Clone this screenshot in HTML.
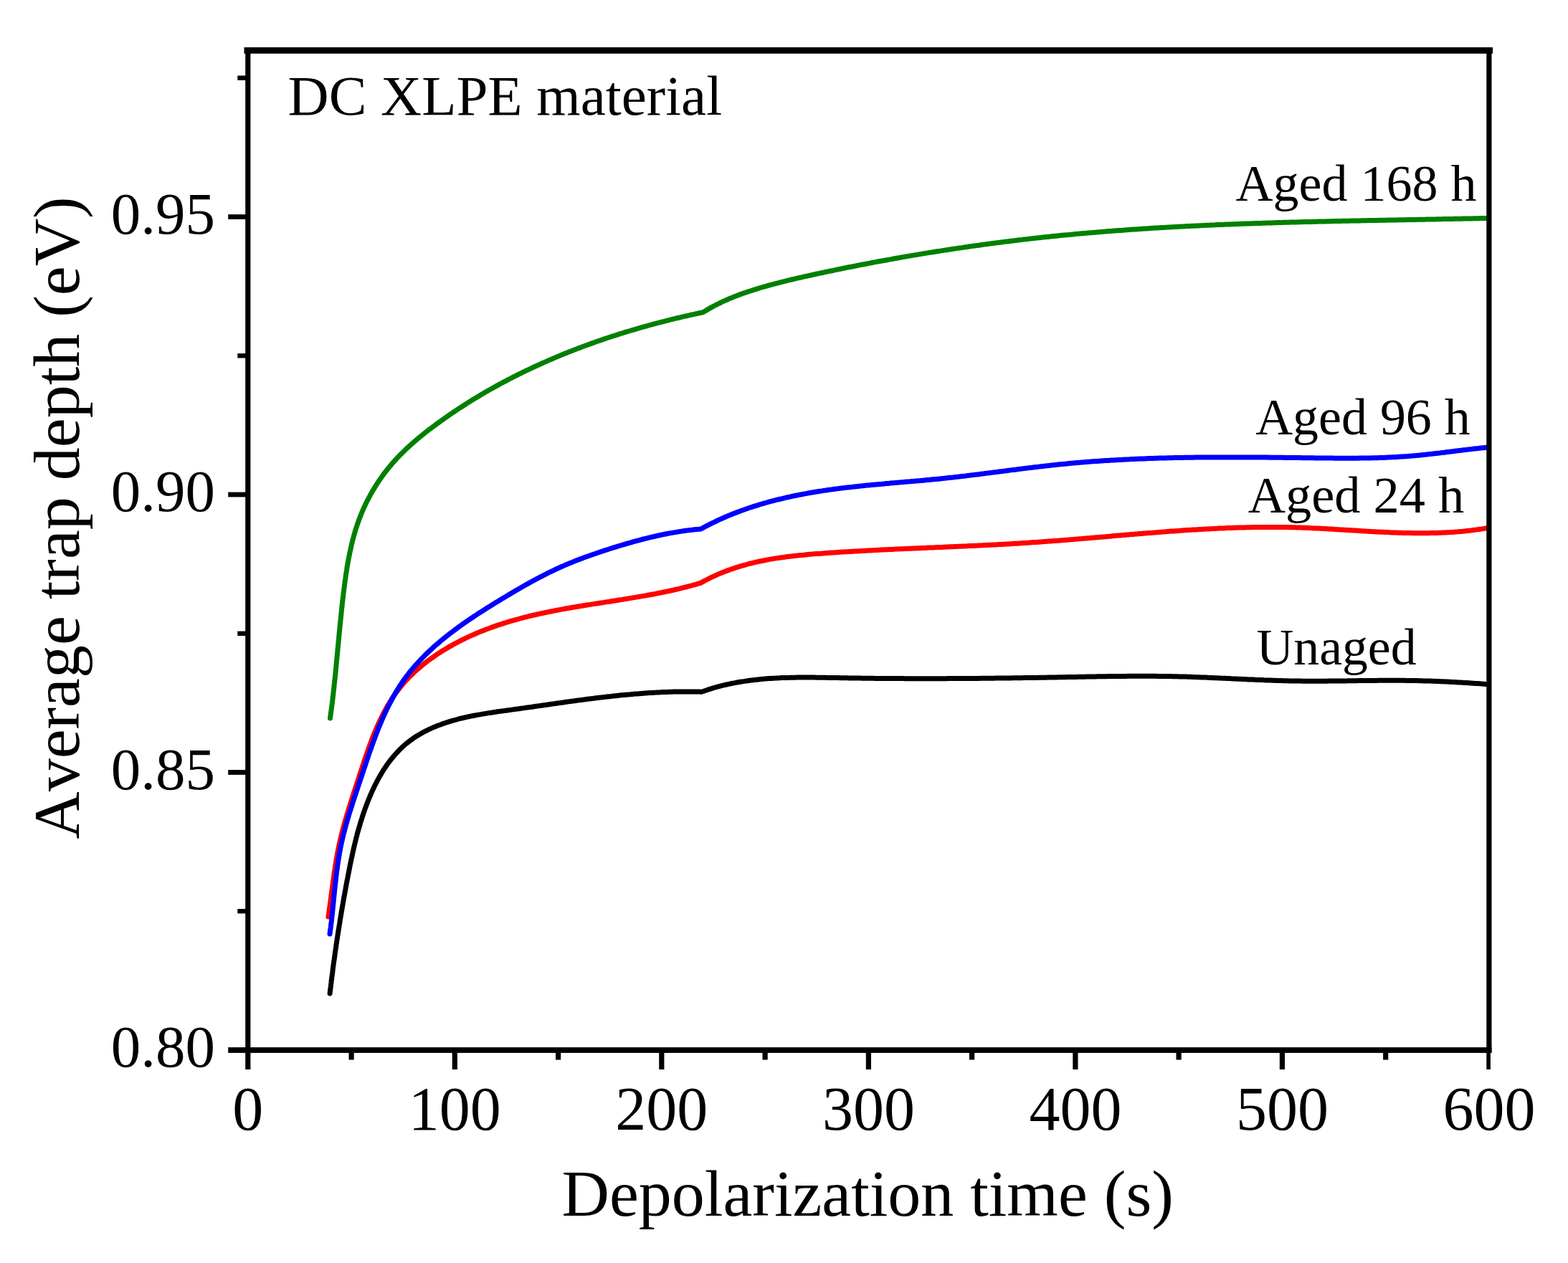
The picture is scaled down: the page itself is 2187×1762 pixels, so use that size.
<!DOCTYPE html>
<html><head><meta charset="utf-8"><title>Average trap depth vs depolarization time</title>
<style>
html,body{margin:0;padding:0;background:#fff;}
body{width:2187px;height:1762px;overflow:hidden;}
svg{display:block;}
text{font-family:"Liberation Serif","Times New Roman",serif;fill:#000;font-kerning:none;}
</style></head>
<body>
<svg width="2187" height="1762" viewBox="0 0 2187 1762">
<rect width="2187" height="1762" fill="#fff"/>
<g fill="none" stroke-width="7.0" stroke-linejoin="round" stroke-linecap="round">
<path d="M460.1 1386.0L460.4 1383.0L460.8 1380.1L461.2 1377.1L461.5 1374.1L461.9 1371.1L462.2 1368.1L462.6 1365.2L463.0 1362.2L463.4 1359.2L463.8 1356.2L464.1 1353.2L464.5 1350.2L464.9 1347.3L465.3 1344.3L465.7 1341.3L466.2 1338.3L466.6 1335.3L467.0 1332.3L467.4 1329.3L467.8 1326.3L468.3 1323.3L468.7 1320.4L469.1 1317.4L469.6 1314.4L470.0 1311.4L470.5 1308.4L470.9 1305.4L471.4 1302.4L471.9 1299.4L472.3 1296.4L472.8 1293.5L473.3 1290.5L473.8 1287.5L474.2 1284.5L474.7 1281.5L475.2 1278.5L475.7 1275.5L476.2 1272.6L476.7 1269.6L477.2 1266.6L477.7 1263.6L478.3 1260.7L478.8 1257.7L479.3 1254.7L479.8 1251.7L480.4 1248.8L480.9 1245.8L481.4 1242.8L482.0 1239.9L482.5 1236.9L483.1 1234.0L483.6 1231.0L484.2 1228.0L484.8 1225.1L485.3 1222.1L485.9 1219.2L486.5 1216.2L487.1 1213.3L487.6 1210.4L488.2 1207.4L488.8 1204.5L489.4 1201.6L490.0 1198.6L490.7 1195.7L491.3 1192.8L491.9 1189.9L492.6 1186.9L493.2 1184.0L493.9 1181.1L494.6 1178.2L495.3 1175.3L496.0 1172.4L496.7 1169.5L497.5 1166.6L498.2 1163.7L499.0 1160.8L499.8 1158.0L500.6 1155.1L501.5 1152.2L502.3 1149.3L503.2 1146.4L504.1 1143.6L505.0 1140.7L505.9 1137.9L506.9 1135.0L507.8 1132.1L508.8 1129.3L509.9 1126.5L510.9 1123.6L512.0 1120.8L513.1 1117.9L514.2 1115.1L515.4 1112.3L516.6 1109.5L517.8 1106.7L519.0 1103.9L520.3 1101.2L521.6 1098.4L522.9 1095.7L524.3 1093.0L525.7 1090.3L527.1 1087.6L528.6 1084.9L530.1 1082.3L531.6 1079.7L533.2 1077.1L534.7 1074.5L536.4 1072.0L538.1 1069.5L539.8 1067.0L541.5 1064.6L543.3 1062.2L545.1 1059.8L547.0 1057.5L548.9 1055.2L550.8 1053.0L552.8 1050.8L554.8 1048.6L556.8 1046.5L559.0 1044.4L561.1 1042.3L563.3 1040.3L565.5 1038.4L567.8 1036.5L570.1 1034.7L572.5 1032.9L574.9 1031.1L577.3 1029.4L579.8 1027.8L582.3 1026.2L584.9 1024.7L587.5 1023.2L590.1 1021.7L592.8 1020.3L595.5 1019.0L598.2 1017.6L600.9 1016.4L603.7 1015.1L606.5 1014.0L609.3 1012.8L612.1 1011.7L615.0 1010.7L617.8 1009.6L620.7 1008.7L623.5 1007.7L626.4 1006.8L629.3 1005.9L632.2 1005.1L635.1 1004.3L638.0 1003.5L640.9 1002.7L643.8 1002.0L646.8 1001.3L649.7 1000.6L652.6 1000.0L655.6 999.4L658.5 998.8L661.5 998.2L664.4 997.6L667.4 997.1L670.3 996.6L673.3 996.1L676.3 995.6L679.3 995.1L682.2 994.6L685.2 994.2L688.2 993.7L691.2 993.3L694.2 992.8L697.1 992.4L700.1 992.0L703.1 991.6L706.1 991.2L709.1 990.8L712.1 990.4L715.1 989.9L718.0 989.5L721.0 989.1L724.0 988.7L727.0 988.3L730.0 987.9L733.0 987.4L736.0 987.0L738.9 986.6L741.9 986.2L744.9 985.7L747.9 985.3L750.9 984.9L753.9 984.5L756.9 984.0L759.8 983.6L762.8 983.2L765.8 982.7L768.8 982.3L771.8 981.9L774.8 981.5L777.7 981.0L780.7 980.6L783.7 980.2L786.7 979.8L789.7 979.3L792.7 978.9L795.6 978.5L798.6 978.1L801.6 977.7L804.6 977.3L807.6 976.9L810.6 976.5L813.6 976.1L816.5 975.7L819.5 975.3L822.5 974.9L825.5 974.6L828.5 974.2L831.5 973.8L834.5 973.4L837.4 973.1L840.4 972.7L843.4 972.4L846.4 972.0L849.4 971.7L852.4 971.4L855.4 971.0L858.4 970.7L861.4 970.4L864.3 970.1L867.3 969.8L870.3 969.5L873.3 969.2L876.3 968.9L879.3 968.7L882.3 968.4L885.3 968.1L888.3 967.9L891.3 967.7L894.3 967.4L897.3 967.2L900.3 967.0L903.3 966.8L906.3 966.6L909.3 966.4L912.3 966.2L915.3 966.1L918.3 965.9L921.3 965.8L924.3 965.6L927.3 965.5L930.3 965.4L933.3 965.3L936.4 965.2L939.4 965.1L942.4 965.0L945.4 965.0L948.4 964.9L951.4 964.9L954.4 964.9L957.4 964.9L960.5 964.9L963.5 964.9L966.5 964.9L969.5 965.0L972.6 965.0L975.6 965.1L978.6 965.2L981.5 964.2L984.4 963.2L987.3 962.2L990.2 961.3L993.1 960.4L996.0 959.5L998.9 958.7L1001.8 957.9L1004.7 957.1L1007.6 956.4L1010.6 955.7L1013.5 955.0L1016.4 954.4L1019.4 953.7L1022.3 953.1L1025.2 952.6L1028.2 952.0L1031.1 951.5L1034.1 951.0L1037.1 950.6L1040.0 950.1L1043.0 949.7L1045.9 949.3L1048.9 948.9L1051.9 948.6L1054.9 948.2L1057.8 947.9L1060.8 947.6L1063.8 947.3L1066.8 947.1L1069.8 946.8L1072.8 946.6L1075.8 946.4L1078.7 946.2L1081.7 946.1L1084.7 945.9L1087.7 945.8L1090.7 945.6L1093.7 945.5L1096.8 945.4L1099.8 945.4L1102.8 945.3L1105.8 945.2L1108.8 945.2L1111.8 945.1L1114.8 945.1L1117.8 945.1L1120.8 945.1L1123.9 945.1L1126.9 945.1L1129.9 945.1L1132.9 945.1L1135.9 945.1L1139.0 945.2L1142.0 945.2L1145.0 945.2L1148.0 945.3L1151.0 945.3L1154.1 945.4L1157.1 945.4L1160.1 945.5L1163.1 945.5L1166.2 945.6L1169.2 945.6L1172.2 945.7L1175.2 945.7L1178.2 945.8L1181.3 945.8L1184.3 945.9L1187.3 945.9L1190.3 946.0L1193.4 946.0L1196.4 946.1L1199.4 946.1L1202.4 946.2L1205.4 946.2L1208.5 946.2L1211.5 946.3L1214.5 946.3L1217.5 946.3L1220.5 946.4L1223.5 946.4L1226.6 946.4L1229.6 946.5L1232.6 946.5L1235.6 946.5L1238.6 946.5L1241.7 946.5L1244.7 946.6L1247.7 946.6L1250.7 946.6L1253.7 946.6L1256.7 946.6L1259.7 946.6L1262.8 946.7L1265.8 946.7L1268.8 946.7L1271.8 946.7L1274.8 946.7L1277.8 946.7L1280.9 946.7L1283.9 946.7L1286.9 946.7L1289.9 946.7L1292.9 946.7L1295.9 946.7L1298.9 946.7L1301.9 946.7L1305.0 946.7L1308.0 946.7L1311.0 946.7L1314.0 946.7L1317.0 946.7L1320.0 946.7L1323.0 946.6L1326.0 946.6L1329.1 946.6L1332.1 946.6L1335.1 946.6L1338.1 946.6L1341.1 946.6L1344.1 946.5L1347.1 946.5L1350.1 946.5L1353.1 946.5L1356.2 946.5L1359.2 946.4L1362.2 946.4L1365.2 946.4L1368.2 946.3L1371.2 946.3L1374.2 946.3L1377.2 946.3L1380.2 946.2L1383.3 946.2L1386.3 946.2L1389.3 946.1L1392.3 946.1L1395.3 946.1L1398.3 946.0L1401.3 946.0L1404.3 946.0L1407.3 945.9L1410.4 945.9L1413.4 945.8L1416.4 945.8L1419.4 945.8L1422.4 945.7L1425.4 945.7L1428.4 945.6L1431.4 945.6L1434.4 945.5L1437.5 945.5L1440.5 945.4L1443.5 945.4L1446.5 945.4L1449.5 945.3L1452.5 945.3L1455.5 945.2L1458.5 945.2L1461.5 945.1L1464.6 945.0L1467.6 945.0L1470.6 944.9L1473.6 944.9L1476.6 944.8L1479.6 944.8L1482.6 944.7L1485.6 944.7L1488.6 944.6L1491.7 944.6L1494.7 944.5L1497.7 944.4L1500.7 944.4L1503.7 944.3L1506.7 944.3L1509.7 944.2L1512.7 944.2L1515.8 944.1L1518.8 944.1L1521.8 944.0L1524.8 943.9L1527.8 943.9L1530.8 943.8L1533.8 943.8L1536.8 943.8L1539.9 943.7L1542.9 943.7L1545.9 943.6L1548.9 943.6L1551.9 943.5L1554.9 943.5L1557.9 943.5L1561.0 943.4L1564.0 943.4L1567.0 943.4L1570.0 943.4L1573.0 943.3L1576.0 943.3L1579.0 943.3L1582.0 943.3L1585.1 943.3L1588.1 943.3L1591.1 943.3L1594.1 943.3L1597.1 943.3L1600.1 943.3L1603.1 943.3L1606.2 943.3L1609.2 943.3L1612.2 943.3L1615.2 943.4L1618.2 943.4L1621.2 943.4L1624.2 943.5L1627.2 943.5L1630.3 943.6L1633.3 943.6L1636.3 943.7L1639.3 943.7L1642.3 943.8L1645.3 943.9L1648.3 944.0L1651.3 944.1L1654.4 944.1L1657.4 944.2L1660.4 944.3L1663.4 944.4L1666.4 944.6L1669.4 944.7L1672.4 944.8L1675.4 944.9L1678.4 945.0L1681.5 945.1L1684.5 945.3L1687.5 945.4L1690.5 945.5L1693.5 945.7L1696.5 945.8L1699.5 945.9L1702.5 946.1L1705.5 946.2L1708.6 946.3L1711.6 946.5L1714.6 946.6L1717.6 946.8L1720.6 946.9L1723.6 947.0L1726.6 947.2L1729.6 947.3L1732.6 947.5L1735.7 947.6L1738.7 947.7L1741.7 947.9L1744.7 948.0L1747.7 948.1L1750.7 948.3L1753.7 948.4L1756.7 948.5L1759.7 948.6L1762.8 948.8L1765.8 948.9L1768.8 949.0L1771.8 949.1L1774.8 949.2L1777.8 949.3L1780.8 949.4L1783.8 949.5L1786.9 949.6L1789.9 949.7L1792.9 949.7L1795.9 949.8L1798.9 949.9L1801.9 949.9L1804.9 950.0L1807.9 950.1L1811.0 950.1L1814.0 950.1L1817.0 950.2L1820.0 950.2L1823.0 950.2L1826.0 950.2L1829.0 950.2L1832.0 950.2L1835.1 950.2L1838.1 950.2L1841.1 950.2L1844.1 950.2L1847.1 950.2L1850.1 950.2L1853.1 950.1L1856.2 950.1L1859.2 950.1L1862.2 950.1L1865.2 950.0L1868.2 950.0L1871.2 950.0L1874.2 949.9L1877.2 949.9L1880.3 949.8L1883.3 949.8L1886.3 949.8L1889.3 949.7L1892.3 949.7L1895.3 949.6L1898.3 949.6L1901.4 949.6L1904.4 949.5L1907.4 949.5L1910.4 949.4L1913.4 949.4L1916.4 949.4L1919.4 949.4L1922.4 949.3L1925.5 949.3L1928.5 949.3L1931.5 949.3L1934.5 949.3L1937.5 949.3L1940.5 949.3L1943.5 949.3L1946.5 949.3L1949.6 949.3L1952.6 949.3L1955.6 949.3L1958.6 949.3L1961.6 949.4L1964.6 949.4L1967.6 949.5L1970.6 949.5L1973.6 949.6L1976.6 949.6L1979.7 949.7L1982.7 949.8L1985.7 949.9L1988.7 949.9L1991.7 950.0L1994.7 950.1L1997.7 950.2L2000.7 950.3L2003.7 950.5L2006.7 950.6L2009.7 950.7L2012.7 950.8L2015.8 951.0L2018.8 951.1L2021.8 951.2L2024.8 951.4L2027.8 951.5L2030.8 951.7L2033.8 951.9L2036.8 952.0L2039.8 952.2L2042.8 952.4L2045.8 952.6L2048.8 952.8L2051.8 953.0L2054.9 953.2L2057.9 953.4L2060.9 953.6L2063.9 953.8L2066.9 954.0L2069.9 954.3L2072.9 954.5" stroke="#000000"/>
<path d="M457.8 1279.0L458.3 1276.0L458.7 1273.1L459.1 1270.1L459.6 1267.1L460.0 1264.1L460.4 1261.2L460.8 1258.2L461.2 1255.2L461.6 1252.2L462.0 1249.2L462.4 1246.2L462.8 1243.2L463.2 1240.2L463.6 1237.2L464.0 1234.2L464.4 1231.2L464.8 1228.2L465.2 1225.2L465.6 1222.2L466.0 1219.2L466.4 1216.3L466.9 1213.3L467.3 1210.3L467.8 1207.3L468.3 1204.3L468.7 1201.3L469.2 1198.4L469.8 1195.4L470.3 1192.5L470.8 1189.5L471.4 1186.6L472.0 1183.6L472.6 1180.7L473.2 1177.8L473.8 1174.9L474.5 1172.0L475.2 1169.0L475.9 1166.2L476.6 1163.3L477.3 1160.4L478.1 1157.5L478.8 1154.6L479.6 1151.7L480.4 1148.9L481.2 1146.0L482.0 1143.2L482.9 1140.3L483.7 1137.4L484.6 1134.6L485.4 1131.7L486.3 1128.9L487.2 1126.0L488.1 1123.2L489.0 1120.3L489.9 1117.5L490.8 1114.6L491.7 1111.8L492.6 1108.9L493.5 1106.1L494.5 1103.2L495.4 1100.4L496.3 1097.5L497.3 1094.6L498.2 1091.8L499.1 1088.9L500.1 1086.0L501.0 1083.1L501.9 1080.2L502.9 1077.3L503.8 1074.5L504.8 1071.6L505.7 1068.7L506.7 1065.8L507.6 1062.9L508.6 1060.0L509.6 1057.1L510.6 1054.2L511.6 1051.4L512.6 1048.5L513.6 1045.6L514.6 1042.8L515.6 1039.9L516.7 1037.0L517.8 1034.2L518.8 1031.4L519.9 1028.5L521.1 1025.7L522.2 1022.9L523.3 1020.1L524.5 1017.3L525.7 1014.6L526.9 1011.8L528.2 1009.1L529.4 1006.3L530.7 1003.6L532.0 1000.9L533.3 998.3L534.7 995.6L536.1 992.9L537.5 990.3L538.9 987.7L540.4 985.1L541.9 982.6L543.4 980.0L545.0 977.5L546.6 975.0L548.2 972.5L549.9 970.0L551.6 967.6L553.3 965.2L555.1 962.8L556.9 960.5L558.7 958.2L560.6 955.9L562.5 953.6L564.5 951.4L566.5 949.1L568.5 947.0L570.6 944.8L572.7 942.7L574.9 940.6L577.1 938.5L579.3 936.5L581.5 934.5L583.8 932.5L586.1 930.5L588.4 928.6L590.7 926.7L593.1 924.8L595.5 923.0L597.9 921.1L600.4 919.4L602.8 917.6L605.3 915.8L607.8 914.1L610.3 912.4L612.8 910.8L615.4 909.2L617.9 907.5L620.5 906.0L623.1 904.4L625.7 902.9L628.3 901.4L631.0 899.9L633.6 898.4L636.3 897.0L639.0 895.6L641.7 894.2L644.3 892.8L647.1 891.5L649.8 890.2L652.5 888.9L655.3 887.6L658.0 886.4L660.8 885.2L663.5 884.0L666.3 882.8L669.1 881.6L671.9 880.5L674.7 879.4L677.5 878.3L680.3 877.2L683.2 876.2L686.0 875.1L688.8 874.1L691.7 873.1L694.5 872.2L697.4 871.2L700.2 870.3L703.1 869.4L706.0 868.5L708.8 867.6L711.7 866.7L714.6 865.9L717.5 865.1L720.4 864.3L723.3 863.5L726.2 862.7L729.1 861.9L732.0 861.2L734.9 860.5L737.8 859.7L740.7 859.0L743.6 858.3L746.5 857.7L749.5 857.0L752.4 856.4L755.3 855.7L758.3 855.1L761.2 854.5L764.1 853.9L767.1 853.3L770.0 852.7L773.0 852.1L775.9 851.5L778.9 851.0L781.8 850.4L784.8 849.9L787.7 849.3L790.7 848.8L793.7 848.3L796.6 847.8L799.6 847.3L802.6 846.8L805.5 846.3L808.5 845.8L811.5 845.3L814.4 844.8L817.4 844.3L820.4 843.8L823.4 843.4L826.3 842.9L829.3 842.4L832.3 842.0L835.3 841.5L838.2 841.0L841.2 840.6L844.2 840.1L847.2 839.6L850.2 839.2L853.1 838.7L856.1 838.2L859.1 837.8L862.1 837.3L865.1 836.8L868.0 836.4L871.0 835.9L874.0 835.4L877.0 834.9L880.0 834.4L882.9 833.9L885.9 833.4L888.9 832.9L891.8 832.4L894.8 831.9L897.8 831.4L900.8 830.9L903.7 830.3L906.7 829.8L909.6 829.2L912.6 828.7L915.6 828.1L918.5 827.5L921.5 826.9L924.4 826.3L927.4 825.7L930.3 825.1L933.3 824.5L936.2 823.8L939.2 823.2L942.1 822.5L945.0 821.8L948.0 821.1L950.9 820.4L953.8 819.7L956.7 819.0L959.7 818.2L962.6 817.5L965.5 816.7L968.4 815.9L971.3 815.1L974.2 814.2L977.1 813.4L979.8 811.9L982.5 810.4L985.2 809.0L988.0 807.6L990.7 806.2L993.4 804.9L996.2 803.6L999.0 802.4L1001.7 801.1L1004.5 800.0L1007.3 798.8L1010.1 797.7L1012.9 796.6L1015.7 795.6L1018.6 794.5L1021.4 793.6L1024.2 792.6L1027.1 791.7L1029.9 790.8L1032.8 789.9L1035.6 789.1L1038.5 788.3L1041.4 787.5L1044.3 786.7L1047.1 786.0L1050.0 785.3L1052.9 784.6L1055.8 783.9L1058.8 783.3L1061.7 782.7L1064.6 782.1L1067.5 781.5L1070.4 780.9L1073.4 780.4L1076.3 779.9L1079.3 779.4L1082.2 778.9L1085.2 778.5L1088.1 778.0L1091.1 777.6L1094.0 777.2L1097.0 776.8L1100.0 776.4L1103.0 776.1L1105.9 775.7L1108.9 775.4L1111.9 775.1L1114.9 774.7L1117.9 774.4L1120.8 774.2L1123.8 773.9L1126.8 773.6L1129.8 773.3L1132.8 773.1L1135.8 772.8L1138.8 772.6L1141.8 772.4L1144.8 772.2L1147.8 771.9L1150.8 771.7L1153.8 771.5L1156.8 771.3L1159.8 771.1L1162.8 770.9L1165.8 770.7L1168.8 770.5L1171.8 770.3L1174.8 770.1L1177.8 769.9L1180.8 769.7L1183.8 769.6L1186.8 769.4L1189.8 769.2L1192.8 769.0L1195.9 768.9L1198.9 768.7L1201.9 768.5L1204.9 768.4L1207.9 768.2L1210.9 768.0L1213.9 767.9L1216.9 767.7L1219.9 767.6L1222.9 767.4L1225.9 767.3L1228.9 767.1L1231.9 767.0L1234.9 766.8L1237.9 766.7L1240.9 766.5L1243.9 766.4L1247.0 766.3L1250.0 766.1L1253.0 766.0L1256.0 765.8L1259.0 765.7L1262.0 765.6L1265.0 765.4L1268.0 765.3L1271.0 765.2L1274.0 765.0L1277.0 764.9L1280.0 764.8L1283.0 764.7L1286.1 764.5L1289.1 764.4L1292.1 764.3L1295.1 764.1L1298.1 764.0L1301.1 763.9L1304.1 763.8L1307.1 763.6L1310.1 763.5L1313.1 763.4L1316.1 763.2L1319.1 763.1L1322.2 763.0L1325.2 762.8L1328.2 762.7L1331.2 762.6L1334.2 762.5L1337.2 762.3L1340.2 762.2L1343.2 762.0L1346.2 761.9L1349.2 761.8L1352.2 761.6L1355.2 761.5L1358.2 761.4L1361.3 761.2L1364.3 761.1L1367.3 760.9L1370.3 760.8L1373.3 760.6L1376.3 760.5L1379.3 760.3L1382.3 760.2L1385.3 760.0L1388.3 759.9L1391.3 759.7L1394.3 759.5L1397.3 759.4L1400.3 759.2L1403.4 759.0L1406.4 758.9L1409.4 758.7L1412.4 758.5L1415.4 758.3L1418.4 758.2L1421.4 758.0L1424.4 757.8L1427.4 757.6L1430.4 757.4L1433.4 757.2L1436.4 757.0L1439.4 756.8L1442.4 756.6L1445.4 756.4L1448.4 756.2L1451.4 756.0L1454.4 755.8L1457.4 755.5L1460.4 755.3L1463.4 755.1L1466.4 754.9L1469.4 754.6L1472.4 754.4L1475.4 754.2L1478.4 753.9L1481.4 753.7L1484.4 753.5L1487.4 753.2L1490.4 753.0L1493.4 752.7L1496.5 752.5L1499.5 752.2L1502.5 752.0L1505.5 751.7L1508.5 751.5L1511.5 751.2L1514.5 751.0L1517.5 750.7L1520.5 750.5L1523.5 750.2L1526.5 750.0L1529.5 749.7L1532.5 749.4L1535.4 749.2L1538.4 748.9L1541.4 748.7L1544.4 748.4L1547.4 748.2L1550.4 747.9L1553.4 747.6L1556.4 747.4L1559.4 747.1L1562.4 746.9L1565.4 746.6L1568.4 746.4L1571.4 746.1L1574.4 745.9L1577.4 745.6L1580.4 745.4L1583.4 745.1L1586.4 744.9L1589.4 744.6L1592.4 744.4L1595.4 744.1L1598.4 743.9L1601.4 743.6L1604.4 743.4L1607.4 743.2L1610.4 742.9L1613.4 742.7L1616.4 742.4L1619.4 742.2L1622.4 742.0L1625.4 741.8L1628.4 741.5L1631.4 741.3L1634.4 741.1L1637.4 740.9L1640.4 740.7L1643.4 740.5L1646.4 740.3L1649.4 740.0L1652.4 739.8L1655.4 739.6L1658.4 739.5L1661.4 739.3L1664.4 739.1L1667.4 738.9L1670.4 738.7L1673.4 738.5L1676.4 738.4L1679.4 738.2L1682.4 738.0L1685.4 737.9L1688.4 737.7L1691.4 737.6L1694.4 737.4L1697.4 737.3L1700.4 737.1L1703.4 737.0L1706.4 736.9L1709.4 736.7L1712.4 736.6L1715.4 736.5L1718.4 736.4L1721.4 736.3L1724.4 736.2L1727.4 736.1L1730.4 736.0L1733.4 735.9L1736.4 735.9L1739.4 735.8L1742.4 735.7L1745.4 735.7L1748.4 735.6L1751.4 735.6L1754.4 735.5L1757.4 735.5L1760.5 735.4L1763.5 735.4L1766.5 735.4L1769.5 735.4L1772.5 735.4L1775.5 735.4L1778.5 735.4L1781.5 735.4L1784.5 735.5L1787.5 735.5L1790.5 735.5L1793.5 735.6L1796.5 735.6L1799.5 735.7L1802.5 735.8L1805.5 735.8L1808.6 735.9L1811.6 736.0L1814.6 736.1L1817.6 736.2L1820.6 736.3L1823.6 736.4L1826.6 736.6L1829.6 736.7L1832.6 736.9L1835.6 737.0L1838.7 737.1L1841.7 737.3L1844.7 737.5L1847.7 737.6L1850.7 737.8L1853.7 738.0L1856.7 738.1L1859.7 738.3L1862.7 738.5L1865.8 738.7L1868.8 738.9L1871.8 739.0L1874.8 739.2L1877.8 739.4L1880.8 739.6L1883.8 739.8L1886.8 740.0L1889.8 740.1L1892.9 740.3L1895.9 740.5L1898.9 740.7L1901.9 740.9L1904.9 741.1L1907.9 741.2L1910.9 741.4L1913.9 741.6L1916.9 741.7L1919.9 741.9L1923.0 742.0L1926.0 742.2L1929.0 742.3L1932.0 742.5L1935.0 742.6L1938.0 742.8L1941.0 742.9L1944.0 743.0L1947.0 743.1L1950.0 743.2L1953.0 743.3L1956.0 743.4L1959.1 743.5L1962.1 743.5L1965.1 743.6L1968.1 743.6L1971.1 743.7L1974.1 743.7L1977.1 743.7L1980.1 743.7L1983.1 743.7L1986.1 743.7L1989.1 743.7L1992.1 743.7L1995.1 743.6L1998.1 743.6L2001.1 743.5L2004.1 743.4L2007.1 743.3L2010.1 743.2L2013.1 743.0L2016.1 742.9L2019.1 742.7L2022.1 742.6L2025.1 742.4L2028.1 742.2L2031.1 741.9L2034.1 741.7L2037.1 741.4L2040.0 741.2L2043.0 740.9L2046.0 740.6L2049.0 740.2L2052.0 739.9L2055.0 739.5L2058.0 739.1L2061.0 738.7L2063.9 738.3L2066.9 737.9L2069.9 737.4L2072.9 736.9" stroke="#ff0000"/>
<path d="M460.0 1303.0L460.4 1300.1L460.8 1297.1L461.2 1294.1L461.5 1291.2L461.9 1288.2L462.3 1285.2L462.6 1282.2L462.9 1279.2L463.3 1276.2L463.6 1273.2L463.9 1270.2L464.2 1267.2L464.5 1264.2L464.8 1261.1L465.1 1258.1L465.4 1255.1L465.7 1252.0L466.0 1249.0L466.3 1246.0L466.6 1242.9L466.9 1239.9L467.3 1236.9L467.6 1233.8L467.9 1230.8L468.3 1227.8L468.6 1224.8L469.0 1221.7L469.3 1218.7L469.7 1215.7L470.1 1212.7L470.5 1209.7L470.9 1206.6L471.4 1203.6L471.8 1200.7L472.3 1197.7L472.8 1194.7L473.3 1191.7L473.8 1188.7L474.4 1185.8L474.9 1182.8L475.5 1179.9L476.1 1176.9L476.8 1174.0L477.4 1171.1L478.1 1168.2L478.8 1165.3L479.5 1162.4L480.3 1159.5L481.0 1156.6L481.8 1153.8L482.6 1150.9L483.4 1148.0L484.2 1145.2L485.0 1142.3L485.9 1139.5L486.7 1136.6L487.6 1133.8L488.5 1130.9L489.4 1128.1L490.3 1125.2L491.2 1122.4L492.1 1119.5L493.0 1116.7L494.0 1113.8L494.9 1111.0L495.9 1108.1L496.8 1105.3L497.8 1102.4L498.7 1099.6L499.7 1096.7L500.6 1093.9L501.6 1091.0L502.5 1088.1L503.5 1085.3L504.5 1082.4L505.4 1079.5L506.4 1076.6L507.3 1073.7L508.3 1070.8L509.3 1067.9L510.2 1065.0L511.2 1062.1L512.2 1059.2L513.2 1056.4L514.1 1053.5L515.1 1050.6L516.1 1047.7L517.2 1044.8L518.2 1041.9L519.2 1039.0L520.2 1036.2L521.3 1033.3L522.4 1030.4L523.4 1027.6L524.5 1024.7L525.6 1021.9L526.7 1019.0L527.8 1016.2L529.0 1013.4L530.1 1010.6L531.3 1007.8L532.5 1005.0L533.7 1002.2L534.9 999.4L536.2 996.7L537.4 993.9L538.7 991.2L540.0 988.5L541.4 985.8L542.7 983.1L544.1 980.4L545.5 977.8L546.9 975.1L548.3 972.5L549.8 969.9L551.3 967.3L552.8 964.7L554.4 962.2L555.9 959.7L557.5 957.1L559.2 954.7L560.8 952.2L562.5 949.7L564.2 947.3L566.0 944.9L567.8 942.5L569.6 940.2L571.4 937.8L573.3 935.5L575.2 933.2L577.1 931.0L579.0 928.7L581.0 926.5L583.0 924.3L585.1 922.1L587.1 919.9L589.2 917.8L591.3 915.6L593.4 913.5L595.6 911.4L597.7 909.4L599.9 907.3L602.1 905.3L604.4 903.2L606.6 901.2L608.9 899.2L611.2 897.3L613.5 895.3L615.8 893.4L618.1 891.4L620.5 889.5L622.9 887.6L625.2 885.7L627.6 883.9L630.1 882.0L632.5 880.2L634.9 878.4L637.4 876.5L639.9 874.7L642.3 873.0L644.8 871.2L647.3 869.4L649.8 867.7L652.4 865.9L654.9 864.2L657.4 862.5L660.0 860.8L662.5 859.1L665.1 857.4L667.6 855.7L670.2 854.1L672.8 852.4L675.4 850.8L677.9 849.1L680.5 847.5L683.1 845.9L685.7 844.3L688.3 842.7L690.9 841.1L693.5 839.5L696.1 837.9L698.6 836.3L701.2 834.8L703.8 833.2L706.4 831.7L709.0 830.1L711.6 828.6L714.2 827.0L716.7 825.5L719.3 824.0L721.9 822.5L724.5 821.0L727.1 819.5L729.7 818.0L732.3 816.5L734.9 815.1L737.5 813.6L740.1 812.2L742.7 810.7L745.3 809.3L748.0 807.9L750.6 806.5L753.2 805.1L755.9 803.8L758.5 802.4L761.2 801.1L763.8 799.7L766.5 798.4L769.2 797.1L771.9 795.8L774.6 794.5L777.3 793.3L780.0 792.0L782.8 790.8L785.5 789.6L788.2 788.4L791.0 787.2L793.8 786.0L796.6 784.9L799.4 783.8L802.2 782.6L805.0 781.5L807.8 780.4L810.7 779.4L813.5 778.3L816.3 777.3L819.2 776.2L822.1 775.2L824.9 774.2L827.8 773.2L830.7 772.2L833.6 771.2L836.5 770.2L839.4 769.3L842.2 768.3L845.1 767.4L848.0 766.5L850.9 765.5L853.8 764.6L856.7 763.7L859.6 762.8L862.5 761.9L865.4 761.0L868.3 760.2L871.2 759.3L874.2 758.4L877.1 757.6L880.0 756.8L882.9 755.9L885.8 755.1L888.7 754.3L891.6 753.6L894.5 752.8L897.5 752.0L900.4 751.3L903.3 750.6L906.2 749.9L909.2 749.2L912.1 748.5L915.0 747.8L918.0 747.2L920.9 746.5L923.9 745.9L926.8 745.3L929.8 744.7L932.7 744.1L935.7 743.6L938.7 743.1L941.6 742.6L944.6 742.1L947.6 741.6L950.6 741.1L953.6 740.7L956.5 740.3L959.5 739.9L962.5 739.5L965.5 739.2L968.5 738.8L971.6 738.5L974.6 738.3L977.6 738.0L980.3 736.5L982.9 735.1L985.6 733.7L988.3 732.3L991.0 730.9L993.7 729.6L996.4 728.3L999.1 727.0L1001.9 725.7L1004.6 724.4L1007.3 723.2L1010.1 722.0L1012.9 720.8L1015.6 719.6L1018.4 718.5L1021.2 717.3L1024.0 716.2L1026.8 715.1L1029.6 714.1L1032.4 713.0L1035.2 712.0L1038.1 711.0L1040.9 710.0L1043.7 709.0L1046.6 708.0L1049.4 707.1L1052.3 706.2L1055.2 705.3L1058.0 704.4L1060.9 703.5L1063.8 702.7L1066.7 701.8L1069.6 701.0L1072.5 700.2L1075.4 699.4L1078.3 698.7L1081.2 697.9L1084.1 697.2L1087.1 696.5L1090.0 695.8L1092.9 695.1L1095.9 694.4L1098.8 693.7L1101.7 693.1L1104.7 692.4L1107.6 691.8L1110.6 691.2L1113.5 690.6L1116.5 690.0L1119.5 689.5L1122.4 688.9L1125.4 688.4L1128.4 687.8L1131.4 687.3L1134.3 686.8L1137.3 686.3L1140.3 685.8L1143.3 685.3L1146.3 684.9L1149.2 684.4L1152.2 684.0L1155.2 683.5L1158.2 683.1L1161.2 682.7L1164.2 682.3L1167.2 681.9L1170.2 681.5L1173.2 681.1L1176.2 680.8L1179.2 680.4L1182.2 680.0L1185.2 679.7L1188.1 679.4L1191.1 679.0L1194.1 678.7L1197.1 678.4L1200.1 678.1L1203.1 677.8L1206.1 677.4L1209.1 677.1L1212.1 676.9L1215.1 676.6L1218.1 676.3L1221.1 676.0L1224.1 675.7L1227.1 675.4L1230.1 675.2L1233.1 674.9L1236.1 674.6L1239.1 674.4L1242.1 674.1L1245.1 673.8L1248.1 673.6L1251.1 673.3L1254.1 673.1L1257.1 672.8L1260.1 672.6L1263.1 672.3L1266.1 672.0L1269.1 671.8L1272.1 671.5L1275.1 671.3L1278.1 671.0L1281.1 670.7L1284.1 670.5L1287.1 670.2L1290.1 669.9L1293.1 669.6L1296.1 669.4L1299.1 669.1L1302.1 668.8L1305.1 668.5L1308.1 668.2L1311.1 667.9L1314.1 667.6L1317.1 667.3L1320.1 666.9L1323.1 666.6L1326.1 666.3L1329.1 666.0L1332.1 665.6L1335.0 665.3L1338.0 664.9L1341.0 664.6L1344.0 664.2L1347.0 663.9L1350.0 663.5L1353.0 663.1L1356.0 662.8L1359.0 662.4L1362.0 662.0L1365.0 661.7L1368.0 661.3L1371.0 660.9L1374.0 660.5L1377.0 660.1L1380.0 659.8L1383.0 659.4L1385.9 659.0L1388.9 658.6L1391.9 658.2L1394.9 657.8L1397.9 657.5L1400.9 657.1L1403.9 656.7L1406.9 656.3L1409.9 655.9L1412.9 655.5L1415.9 655.2L1418.9 654.8L1421.9 654.4L1424.9 654.0L1427.9 653.6L1430.9 653.3L1433.9 652.9L1436.8 652.5L1439.8 652.2L1442.8 651.8L1445.8 651.5L1448.8 651.1L1451.8 650.7L1454.8 650.4L1457.8 650.1L1460.8 649.7L1463.8 649.4L1466.8 649.1L1469.8 648.7L1472.8 648.4L1475.8 648.1L1478.8 647.8L1481.8 647.5L1484.8 647.2L1487.8 646.9L1490.8 646.6L1493.8 646.3L1496.8 646.1L1499.8 645.8L1502.8 645.5L1505.8 645.3L1508.8 645.0L1511.8 644.8L1514.8 644.5L1517.8 644.3L1520.8 644.1L1523.8 643.8L1526.8 643.6L1529.8 643.4L1532.8 643.2L1535.9 643.0L1538.9 642.8L1541.9 642.6L1544.9 642.4L1547.9 642.2L1550.9 642.0L1553.9 641.9L1556.9 641.7L1559.9 641.5L1562.9 641.4L1565.9 641.2L1568.9 641.0L1571.9 640.9L1575.0 640.8L1578.0 640.6L1581.0 640.5L1584.0 640.3L1587.0 640.2L1590.0 640.1L1593.0 640.0L1596.0 639.9L1599.0 639.7L1602.0 639.6L1605.1 639.5L1608.1 639.4L1611.1 639.3L1614.1 639.2L1617.1 639.1L1620.1 639.1L1623.1 639.0L1626.1 638.9L1629.1 638.8L1632.2 638.7L1635.2 638.7L1638.2 638.6L1641.2 638.5L1644.2 638.5L1647.2 638.4L1650.2 638.4L1653.3 638.3L1656.3 638.3L1659.3 638.2L1662.3 638.2L1665.3 638.2L1668.3 638.1L1671.3 638.1L1674.3 638.1L1677.4 638.0L1680.4 638.0L1683.4 638.0L1686.4 638.0L1689.4 637.9L1692.4 637.9L1695.5 637.9L1698.5 637.9L1701.5 637.9L1704.5 637.9L1707.5 637.9L1710.5 637.9L1713.5 637.9L1716.6 637.9L1719.6 637.9L1722.6 637.9L1725.6 637.9L1728.6 637.9L1731.6 637.9L1734.6 637.9L1737.7 637.9L1740.7 637.9L1743.7 638.0L1746.7 638.0L1749.7 638.0L1752.7 638.0L1755.8 638.0L1758.8 638.1L1761.8 638.1L1764.8 638.1L1767.8 638.1L1770.8 638.2L1773.8 638.2L1776.9 638.2L1779.9 638.2L1782.9 638.3L1785.9 638.3L1788.9 638.3L1791.9 638.4L1794.9 638.4L1798.0 638.4L1801.0 638.5L1804.0 638.5L1807.0 638.6L1810.0 638.6L1813.0 638.6L1816.0 638.7L1819.1 638.7L1822.1 638.7L1825.1 638.8L1828.1 638.8L1831.1 638.8L1834.1 638.9L1837.1 638.9L1840.1 639.0L1843.2 639.0L1846.2 639.0L1849.2 639.1L1852.2 639.1L1855.2 639.1L1858.2 639.1L1861.2 639.2L1864.2 639.2L1867.2 639.2L1870.3 639.2L1873.3 639.2L1876.3 639.2L1879.3 639.2L1882.3 639.2L1885.3 639.2L1888.3 639.2L1891.3 639.2L1894.3 639.2L1897.3 639.1L1900.3 639.1L1903.4 639.1L1906.4 639.0L1909.4 639.0L1912.4 638.9L1915.4 638.8L1918.4 638.8L1921.4 638.7L1924.4 638.6L1927.4 638.5L1930.4 638.4L1933.4 638.2L1936.4 638.1L1939.4 638.0L1942.4 637.8L1945.4 637.7L1948.4 637.5L1951.4 637.3L1954.4 637.1L1957.4 636.9L1960.4 636.7L1963.4 636.5L1966.4 636.2L1969.4 636.0L1972.4 635.7L1975.4 635.5L1978.4 635.2L1981.4 634.9L1984.4 634.6L1987.4 634.3L1990.4 633.9L1993.4 633.6L1996.4 633.3L1999.4 632.9L2002.4 632.6L2005.4 632.2L2008.4 631.9L2011.4 631.5L2014.3 631.2L2017.3 630.8L2020.3 630.4L2023.3 630.1L2026.3 629.7L2029.3 629.3L2032.3 628.9L2035.3 628.6L2038.3 628.2L2041.3 627.8L2044.3 627.5L2047.3 627.1L2050.3 626.7L2053.3 626.4L2056.3 626.0L2059.3 625.7L2062.3 625.4L2065.3 625.0L2068.3 624.7L2071.3 624.4L2074.3 624.1" stroke="#0000ff"/>
<path d="M460.5 1002.0L460.9 999.0L461.3 996.0L461.7 993.1L462.1 990.1L462.5 987.1L462.9 984.1L463.3 981.1L463.6 978.2L464.0 975.2L464.3 972.2L464.7 969.2L465.0 966.2L465.3 963.2L465.7 960.3L466.0 957.3L466.3 954.3L466.6 951.3L467.0 948.3L467.3 945.3L467.6 942.3L467.9 939.3L468.2 936.3L468.5 933.3L468.8 930.4L469.0 927.4L469.3 924.4L469.6 921.4L469.9 918.4L470.2 915.4L470.5 912.4L470.8 909.4L471.0 906.4L471.3 903.4L471.6 900.4L471.9 897.4L472.2 894.4L472.5 891.4L472.7 888.4L473.0 885.4L473.3 882.4L473.6 879.4L473.9 876.4L474.2 873.3L474.5 870.3L474.8 867.3L475.1 864.3L475.4 861.3L475.7 858.3L476.0 855.3L476.3 852.3L476.6 849.3L477.0 846.3L477.3 843.2L477.6 840.2L478.0 837.2L478.3 834.2L478.7 831.2L479.0 828.2L479.4 825.1L479.8 822.1L480.2 819.1L480.5 816.1L480.9 813.1L481.3 810.1L481.8 807.0L482.2 804.0L482.6 801.0L483.1 798.0L483.6 795.0L484.0 792.0L484.5 789.0L485.1 786.0L485.6 783.0L486.1 780.0L486.7 777.1L487.3 774.1L487.9 771.1L488.5 768.2L489.2 765.2L489.8 762.3L490.5 759.3L491.2 756.4L492.0 753.5L492.7 750.6L493.5 747.7L494.3 744.8L495.2 741.9L496.0 739.0L496.9 736.2L497.9 733.3L498.8 730.5L499.8 727.7L500.8 724.9L501.9 722.1L503.0 719.3L504.1 716.5L505.2 713.8L506.4 711.0L507.6 708.3L508.9 705.6L510.1 702.9L511.4 700.2L512.8 697.6L514.2 694.9L515.6 692.3L517.0 689.7L518.5 687.1L519.9 684.5L521.5 682.0L523.0 679.4L524.6 676.9L526.2 674.4L527.9 671.9L529.5 669.4L531.2 667.0L533.0 664.5L534.7 662.1L536.5 659.7L538.3 657.4L540.2 655.0L542.0 652.7L543.9 650.4L545.9 648.1L547.8 645.8L549.8 643.6L551.8 641.4L553.8 639.2L555.9 637.0L558.0 634.8L560.1 632.7L562.2 630.6L564.4 628.5L566.5 626.4L568.7 624.3L570.9 622.3L573.2 620.3L575.4 618.3L577.7 616.3L580.0 614.3L582.3 612.4L584.6 610.4L587.0 608.5L589.3 606.6L591.7 604.7L594.1 602.8L596.4 601.0L598.8 599.1L601.3 597.3L603.7 595.5L606.1 593.7L608.5 591.9L611.0 590.1L613.5 588.3L615.9 586.5L618.4 584.8L620.9 583.0L623.3 581.3L625.8 579.6L628.3 577.9L630.8 576.2L633.3 574.5L635.8 572.8L638.3 571.1L640.9 569.4L643.4 567.8L645.9 566.2L648.5 564.5L651.0 562.9L653.6 561.3L656.1 559.7L658.7 558.1L661.3 556.5L663.9 555.0L666.4 553.4L669.0 551.9L671.6 550.3L674.2 548.8L676.8 547.3L679.4 545.8L682.0 544.3L684.7 542.8L687.3 541.3L689.9 539.9L692.6 538.4L695.2 536.9L697.8 535.5L700.5 534.1L703.2 532.7L705.8 531.3L708.5 529.9L711.1 528.5L713.8 527.1L716.5 525.7L719.2 524.4L721.9 523.0L724.6 521.7L727.3 520.3L730.0 519.0L732.7 517.7L735.4 516.4L738.1 515.1L740.8 513.8L743.6 512.5L746.3 511.3L749.0 510.0L751.8 508.8L754.5 507.5L757.3 506.3L760.0 505.1L762.8 503.8L765.5 502.6L768.3 501.4L771.1 500.3L773.8 499.1L776.6 497.9L779.4 496.8L782.2 495.6L785.0 494.5L787.7 493.3L790.5 492.2L793.3 491.1L796.1 490.0L798.9 488.9L801.8 487.8L804.6 486.7L807.4 485.6L810.2 484.6L813.0 483.5L815.8 482.5L818.7 481.4L821.5 480.4L824.3 479.4L827.2 478.4L830.0 477.3L832.9 476.3L835.7 475.4L838.6 474.4L841.4 473.4L844.3 472.4L847.1 471.5L850.0 470.5L852.8 469.6L855.7 468.7L858.6 467.7L861.4 466.8L864.3 465.9L867.2 465.0L870.1 464.1L873.0 463.2L875.8 462.3L878.7 461.5L881.6 460.6L884.5 459.8L887.4 458.9L890.3 458.1L893.2 457.2L896.1 456.4L899.0 455.6L901.9 454.8L904.8 454.0L907.7 453.2L910.6 452.4L913.5 451.6L916.4 450.8L919.3 450.1L922.2 449.3L925.2 448.6L928.1 447.8L931.0 447.1L933.9 446.3L936.8 445.6L939.8 444.9L942.7 444.2L945.6 443.5L948.5 442.8L951.5 442.1L954.4 441.4L957.3 440.8L960.3 440.1L963.2 439.4L966.1 438.8L969.1 438.1L972.0 437.5L974.9 436.8L977.9 436.2L980.8 435.6L983.4 434.0L986.0 432.4L988.6 430.9L991.2 429.4L993.9 427.9L996.5 426.5L999.2 425.1L1001.9 423.8L1004.6 422.5L1007.3 421.2L1010.0 419.9L1012.7 418.7L1015.5 417.5L1018.2 416.3L1021.0 415.2L1023.8 414.1L1026.5 413.0L1029.3 411.9L1032.1 410.9L1035.0 409.8L1037.8 408.8L1040.6 407.9L1043.5 406.9L1046.3 406.0L1049.1 405.1L1052.0 404.2L1054.9 403.3L1057.7 402.4L1060.6 401.5L1063.5 400.7L1066.4 399.9L1069.3 399.1L1072.2 398.2L1075.1 397.4L1078.0 396.7L1080.9 395.9L1083.8 395.1L1086.7 394.4L1089.6 393.6L1092.5 392.9L1095.4 392.2L1098.4 391.4L1101.3 390.7L1104.2 390.0L1107.1 389.3L1110.1 388.6L1113.0 387.9L1116.0 387.3L1118.9 386.6L1121.8 385.9L1124.8 385.3L1127.7 384.6L1130.7 384.0L1133.6 383.3L1136.6 382.7L1139.5 382.0L1142.5 381.4L1145.4 380.8L1148.4 380.2L1151.3 379.5L1154.3 378.9L1157.2 378.3L1160.2 377.7L1163.1 377.1L1166.1 376.4L1169.0 375.8L1172.0 375.2L1174.9 374.6L1177.9 374.0L1180.8 373.4L1183.8 372.8L1186.8 372.3L1189.7 371.7L1192.7 371.1L1195.6 370.5L1198.6 369.9L1201.5 369.3L1204.5 368.8L1207.5 368.2L1210.4 367.6L1213.4 367.1L1216.3 366.5L1219.3 365.9L1222.3 365.4L1225.2 364.8L1228.2 364.3L1231.2 363.7L1234.1 363.2L1237.1 362.7L1240.0 362.1L1243.0 361.6L1246.0 361.0L1248.9 360.5L1251.9 360.0L1254.9 359.5L1257.8 358.9L1260.8 358.4L1263.8 357.9L1266.7 357.4L1269.7 356.9L1272.7 356.4L1275.7 355.9L1278.6 355.4L1281.6 354.9L1284.6 354.4L1287.5 353.9L1290.5 353.4L1293.5 352.9L1296.5 352.4L1299.4 352.0L1302.4 351.5L1305.4 351.0L1308.3 350.5L1311.3 350.1L1314.3 349.6L1317.3 349.1L1320.2 348.7L1323.2 348.2L1326.2 347.8L1329.2 347.3L1332.1 346.9L1335.1 346.4L1338.1 346.0L1341.1 345.6L1344.1 345.1L1347.0 344.7L1350.0 344.3L1353.0 343.8L1356.0 343.4L1359.0 343.0L1361.9 342.6L1364.9 342.2L1367.9 341.7L1370.9 341.3L1373.9 340.9L1376.8 340.5L1379.8 340.1L1382.8 339.7L1385.8 339.3L1388.8 338.9L1391.8 338.6L1394.7 338.2L1397.7 337.8L1400.7 337.4L1403.7 337.0L1406.7 336.7L1409.7 336.3L1412.7 335.9L1415.6 335.6L1418.6 335.2L1421.6 334.8L1424.6 334.5L1427.6 334.1L1430.6 333.8L1433.6 333.4L1436.6 333.1L1439.6 332.8L1442.5 332.4L1445.5 332.1L1448.5 331.8L1451.5 331.4L1454.5 331.1L1457.5 330.8L1460.5 330.5L1463.5 330.2L1466.5 329.8L1469.5 329.5L1472.5 329.2L1475.5 328.9L1478.4 328.6L1481.4 328.3L1484.4 328.0L1487.4 327.7L1490.4 327.5L1493.4 327.2L1496.4 326.9L1499.4 326.6L1502.4 326.3L1505.4 326.1L1508.4 325.8L1511.4 325.5L1514.4 325.3L1517.4 325.0L1520.4 324.7L1523.4 324.5L1526.4 324.2L1529.4 324.0L1532.4 323.7L1535.4 323.5L1538.4 323.2L1541.4 323.0L1544.4 322.7L1547.4 322.5L1550.4 322.3L1553.4 322.0L1556.4 321.8L1559.4 321.6L1562.4 321.4L1565.4 321.2L1568.4 320.9L1571.4 320.7L1574.4 320.5L1577.4 320.3L1580.4 320.1L1583.4 319.9L1586.4 319.7L1589.4 319.5L1592.4 319.3L1595.4 319.1L1598.4 318.9L1601.4 318.7L1604.4 318.5L1607.4 318.3L1610.4 318.1L1613.4 317.9L1616.4 317.8L1619.4 317.6L1622.5 317.4L1625.5 317.2L1628.5 317.1L1631.5 316.9L1634.5 316.7L1637.5 316.6L1640.5 316.4L1643.5 316.2L1646.5 316.1L1649.5 315.9L1652.5 315.8L1655.5 315.6L1658.5 315.5L1661.5 315.3L1664.5 315.2L1667.6 315.0L1670.6 314.9L1673.6 314.7L1676.6 314.6L1679.6 314.4L1682.6 314.3L1685.6 314.2L1688.6 314.0L1691.6 313.9L1694.6 313.8L1697.6 313.6L1700.7 313.5L1703.7 313.4L1706.7 313.3L1709.7 313.1L1712.7 313.0L1715.7 312.9L1718.7 312.8L1721.7 312.7L1724.7 312.5L1727.7 312.4L1730.8 312.3L1733.8 312.2L1736.8 312.1L1739.8 312.0L1742.8 311.9L1745.8 311.8L1748.8 311.7L1751.8 311.6L1754.8 311.5L1757.9 311.4L1760.9 311.3L1763.9 311.2L1766.9 311.1L1769.9 311.0L1772.9 310.9L1775.9 310.8L1778.9 310.7L1781.9 310.6L1785.0 310.5L1788.0 310.4L1791.0 310.3L1794.0 310.3L1797.0 310.2L1800.0 310.1L1803.0 310.0L1806.0 309.9L1809.1 309.9L1812.1 309.8L1815.1 309.7L1818.1 309.6L1821.1 309.5L1824.1 309.5L1827.1 309.4L1830.1 309.3L1833.2 309.2L1836.2 309.2L1839.2 309.1L1842.2 309.0L1845.2 309.0L1848.2 308.9L1851.2 308.8L1854.2 308.7L1857.3 308.7L1860.3 308.6L1863.3 308.5L1866.3 308.5L1869.3 308.4L1872.3 308.3L1875.3 308.3L1878.3 308.2L1881.4 308.2L1884.4 308.1L1887.4 308.0L1890.4 308.0L1893.4 307.9L1896.4 307.9L1899.4 307.8L1902.4 307.7L1905.5 307.7L1908.5 307.6L1911.5 307.6L1914.5 307.5L1917.5 307.4L1920.5 307.4L1923.5 307.3L1926.5 307.3L1929.6 307.2L1932.6 307.2L1935.6 307.1L1938.6 307.0L1941.6 307.0L1944.6 306.9L1947.6 306.9L1950.6 306.8L1953.6 306.8L1956.7 306.7L1959.7 306.7L1962.7 306.6L1965.7 306.5L1968.7 306.5L1971.7 306.4L1974.7 306.4L1977.7 306.3L1980.7 306.3L1983.8 306.2L1986.8 306.2L1989.8 306.1L1992.8 306.0L1995.8 306.0L1998.8 305.9L2001.8 305.9L2004.8 305.8L2007.8 305.8L2010.8 305.7L2013.8 305.6L2016.9 305.6L2019.9 305.5L2022.9 305.5L2025.9 305.4L2028.9 305.3L2031.9 305.3L2034.9 305.2L2037.9 305.2L2040.9 305.1L2043.9 305.0L2046.9 305.0L2049.9 304.9L2053.0 304.9L2056.0 304.8L2059.0 304.7L2062.0 304.7L2065.0 304.6L2068.0 304.5L2071.0 304.5L2074.0 304.4" stroke="#008000"/>
</g>
<g fill="#000">
<rect x="340.5" y="66" width="1741.5" height="8.8"/>
<rect x="342.2" y="66" width="7.2" height="1426"/>
<rect x="2073.3" y="66" width="7.2" height="1402.9"/>
<rect x="318.2" y="1461.1" width="1762.3" height="7.8"/>
<rect x="486.5" y="1468" width="7.2" height="10.5"/>
<rect x="630.7" y="1468" width="7.2" height="24"/>
<rect x="775.0" y="1468" width="7.2" height="10.5"/>
<rect x="919.2" y="1468" width="7.2" height="24"/>
<rect x="1063.5" y="1468" width="7.2" height="10.5"/>
<rect x="1207.8" y="1468" width="7.2" height="24"/>
<rect x="1352.0" y="1468" width="7.2" height="10.5"/>
<rect x="1496.3" y="1468" width="7.2" height="24"/>
<rect x="1640.5" y="1468" width="7.2" height="10.5"/>
<rect x="1784.8" y="1468" width="7.2" height="24"/>
<rect x="1929.1" y="1468" width="7.2" height="10.5"/>
<rect x="2073.3" y="1468" width="5.6" height="24"/>
<rect x="331.3" y="1268.0" width="12" height="6.4"/>
<rect x="318.2" y="1074.1" width="25" height="6.8"/>
<rect x="331.3" y="880.6" width="12" height="6.4"/>
<rect x="318.2" y="686.6" width="25" height="6.8"/>
<rect x="331.3" y="493.1" width="12" height="6.4"/>
<rect x="318.2" y="299.1" width="25" height="6.8"/>
<rect x="331.3" y="105.5" width="12" height="6.4"/>
</g>
<g>
<text x="401.6" y="160.0" font-size="79" >DC XLPE material</text>
<text x="345.8" y="1576.0" font-size="86" text-anchor="middle">0</text>
<text x="634.3" y="1576.0" font-size="86" text-anchor="middle">100</text>
<text x="922.8" y="1576.0" font-size="86" text-anchor="middle">200</text>
<text x="1211.4" y="1576.0" font-size="86" text-anchor="middle">300</text>
<text x="1499.9" y="1576.0" font-size="86" text-anchor="middle">400</text>
<text x="1788.4" y="1576.0" font-size="86" text-anchor="middle">500</text>
<text x="2076.9" y="1576.0" font-size="86" text-anchor="middle">600</text>
<text x="300.0" y="1488.3" font-size="83" text-anchor="end">0.80</text>
<text x="300.0" y="1100.8" font-size="83" text-anchor="end">0.85</text>
<text x="300.0" y="713.3" font-size="83" text-anchor="end">0.90</text>
<text x="300.0" y="325.8" font-size="83" text-anchor="end">0.95</text>
<text x="783.6" y="1696.2" font-size="92" >Depolarization time (s)</text>
<text transform="translate(110.0,1170.8) rotate(-90)" font-size="92">Average trap depth (eV)</text>
<text x="1723.5" y="279.5" font-size="72.0" >Aged 168 h</text>
<text x="1751.2" y="605.8" font-size="71.9" >Aged 96 h</text>
<text x="1740.7" y="714.6" font-size="72.4" >Aged 24 h</text>
<text x="1752.6" y="926.5" font-size="71.7" >Unaged</text>
</g>
</svg>
</body></html>
